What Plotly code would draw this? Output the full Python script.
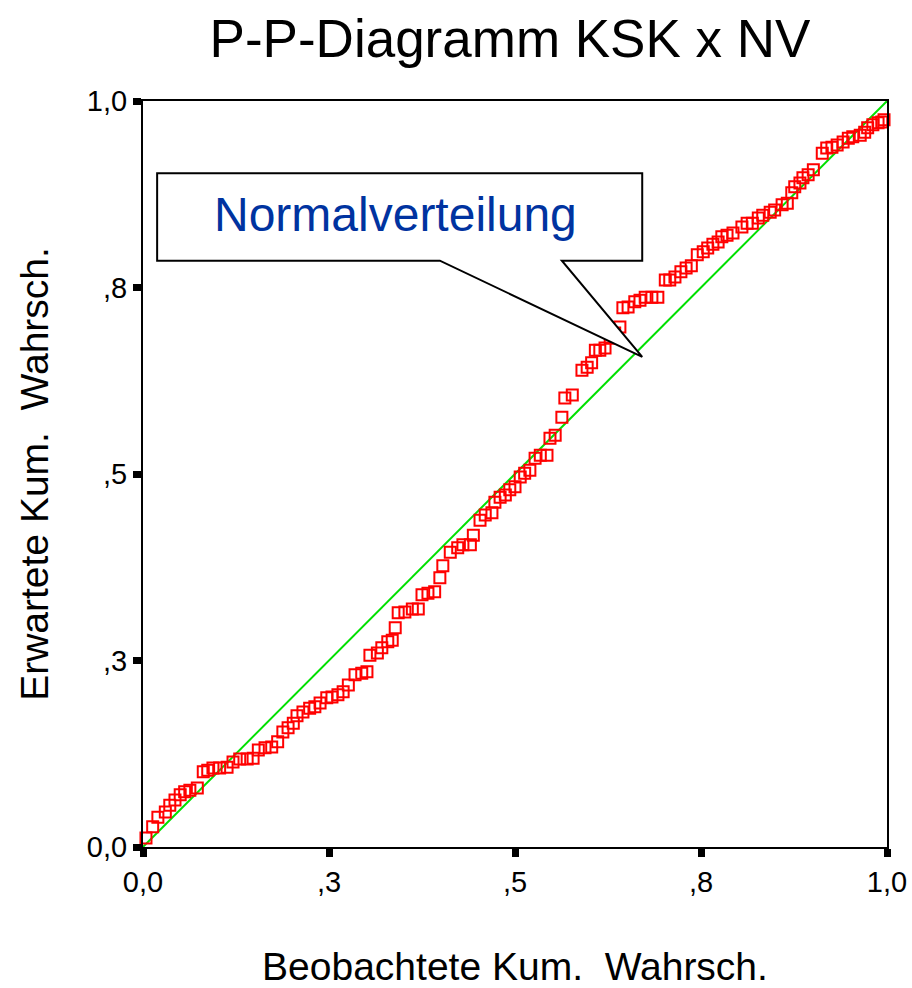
import plotly.graph_objects as go

# Observed cumulative probability (x) vs expected cumulative probability (y)
observed = [0.004,0.013,0.020,0.030,0.036,0.043,0.050,0.056,0.063,0.073,
            0.081,0.087,0.094,0.103,0.113,0.121,0.130,0.140,0.148,0.155,
            0.164,0.173,0.181,0.188,0.195,0.202,0.207,0.215,0.224,0.231,
            0.238,0.247,0.254,0.262,0.269,0.276,0.285,0.294,0.301,0.305,
            0.315,0.321,0.329,0.335,0.339,0.343,0.352,0.362,0.370,0.375,
            0.383,0.392,0.399,0.403,0.413,0.423,0.430,0.440,0.444,0.453,
            0.460,0.469,0.473,0.480,0.487,0.493,0.500,0.507,0.513,0.520,
            0.527,0.534,0.543,0.547,0.554,0.563,0.567,0.577,0.590,0.597,
            0.603,0.608,0.614,0.621,0.628,0.634,0.641,0.645,0.652,0.661,
            0.668,0.675,0.684,0.692,0.702,0.708,0.715,0.723,0.730,0.737,
            0.745,0.753,0.759,0.766,0.773,0.778,0.785,0.793,0.805,0.812,
            0.819,0.827,0.833,0.843,0.849,0.859,0.866,0.872,0.876,0.883,
            0.887,0.894,0.901,0.913,0.919,0.926,0.933,0.941,0.948,0.954,
            0.964,0.970,0.974,0.981,0.988,0.993,0.996]

expected = [0.012,0.027,0.040,0.047,0.056,0.063,0.070,0.074,0.076,0.079,
            0.101,0.103,0.106,0.106,0.107,0.114,0.118,0.118,0.119,0.130,
            0.133,0.134,0.141,0.154,0.160,0.166,0.176,0.181,0.186,0.188,
            0.193,0.200,0.201,0.204,0.208,0.217,0.231,0.233,0.235,0.257,
            0.260,0.267,0.275,0.277,0.294,0.314,0.315,0.319,0.319,0.338,
            0.340,0.342,0.361,0.377,0.395,0.401,0.405,0.405,0.418,0.438,
            0.445,0.448,0.462,0.469,0.472,0.479,0.483,0.496,0.501,0.505,
            0.521,0.525,0.525,0.548,0.552,0.576,0.602,0.606,0.639,0.643,
            0.649,0.666,0.666,0.669,0.682,0.689,0.697,0.723,0.724,0.731,
            0.733,0.737,0.737,0.737,0.760,0.760,0.764,0.771,0.776,0.779,
            0.794,0.798,0.803,0.808,0.811,0.818,0.820,0.823,0.831,0.836,
            0.836,0.843,0.847,0.851,0.854,0.861,0.863,0.877,0.885,0.890,
            0.897,0.901,0.908,0.930,0.937,0.938,0.941,0.945,0.950,0.952,
            0.954,0.958,0.964,0.968,0.971,0.972,0.975]

diag = [0.0, 1.0]
tick_vals = [0.0, 0.25, 0.5, 0.75, 1.0]
tick_text = ["0,0", ",3", ",5", ",8", "1,0"]

FONT = "Liberation Sans, Arial, sans-serif"

fig = go.Figure()
fig.add_trace(go.Scatter(x=diag, y=diag, mode="lines",
                         line=dict(color="#00e000", width=2),
                         hoverinfo="skip", showlegend=False))
fig.add_trace(go.Scatter(x=observed, y=expected, mode="markers",
                         marker=dict(symbol="square-open", size=11, color="#ff0000",
                                     line=dict(color="#ff0000", width=2)),
                         cliponaxis=False, showlegend=False))

# Callout box "Normalverteilung" (data-space, axis range 0..1)
bx0, bx1, by0, by1 = 0.019, 0.671, 0.786, 0.903
r1, r2 = 0.399, 0.563
tipx, tipy = 0.671, 0.657
path = (f"M {bx0},{by1} L {bx1},{by1} L {bx1},{by0} L {r2},{by0} "
        f"L {tipx},{tipy} L {r1},{by0} L {bx0},{by0} Z")
fig.add_shape(type="path", path=path, xref="x", yref="y",
              line=dict(color="black", width=2), fillcolor="white", layer="above")
fig.add_annotation(x=(bx0 + bx1) / 2 - 0.005, y=(by0 + by1) / 2 + 0.004, xref="x", yref="y",
                   text="Normalverteilung", showarrow=False,
                   font=dict(family=FONT, size=48, color="#0033a0"))

axis_common = dict(range=[0, 1], tickmode="array", tickvals=tick_vals, ticktext=tick_text,
                   ticks="outside", ticklen=8, tickwidth=7, tickcolor="black",
                   showline=True, linecolor="black", linewidth=2, mirror=True,
                   showgrid=False, zeroline=False, automargin=False,
                   tickfont=dict(family=FONT, size=29, color="black"))

fig.update_layout(
    width=912, height=988,
    margin=dict(l=143, r=25, t=101, b=141, autoexpand=False),
    paper_bgcolor="white", plot_bgcolor="white",
    title=dict(text="P-P-Diagramm KSK x NV", x=510 / 912, xanchor="center",
               y=1 - 38 / 988, yanchor="middle", xref="container", yref="container",
               automargin=False,
               font=dict(family=FONT, size=53, color="black")),
    xaxis=dict(**axis_common,
               title=dict(text="Beobachtete Kum.\u00a0 Wahrsch.", standoff=57,
                          font=dict(family=FONT, size=39, color="black"))),
    yaxis=dict(**axis_common,
               title=dict(text="Erwartete Kum.\u00a0 Wahrsch.", standoff=26,
                          font=dict(family=FONT, size=39, color="black"))),
)

# Remove the default 8px page margin so the figure fills the window exactly.
fig.write_html("out.html", config={"displayModeBar": False},
               post_script="document.body.style.margin='0';document.body.style.overflow='hidden';")
